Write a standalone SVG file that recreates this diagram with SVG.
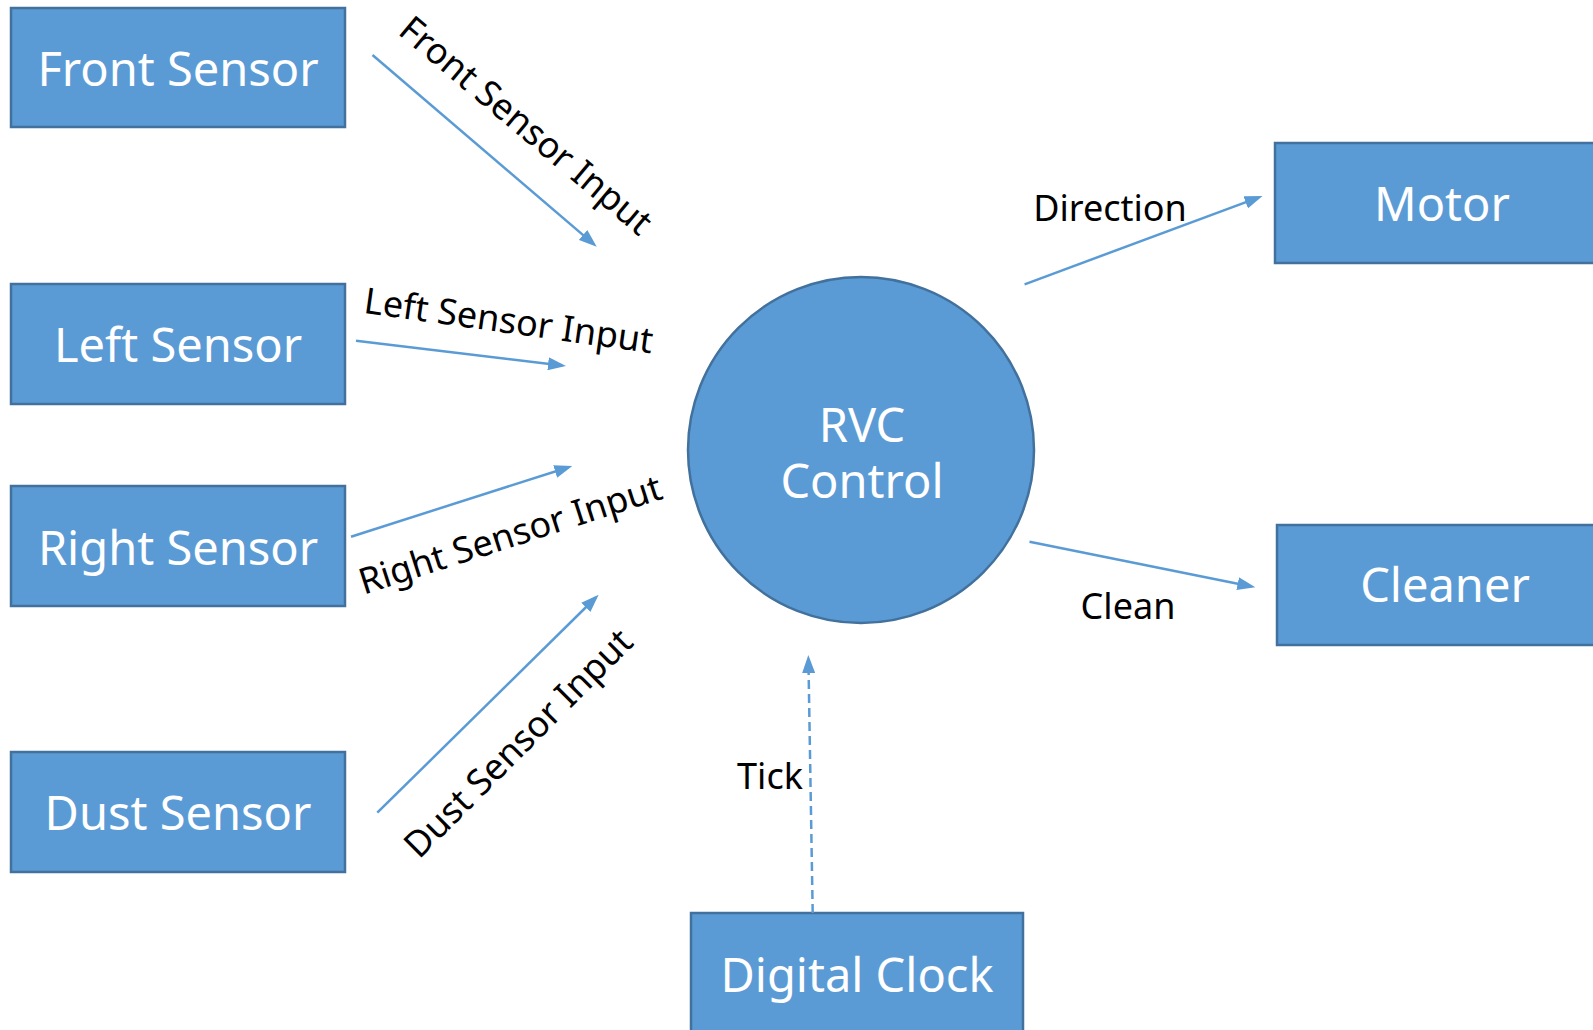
<svg xmlns="http://www.w3.org/2000/svg" width="1593" height="1030" viewBox="0 0 1593 1030">
<style>
.node{fill:#5B9BD5;stroke:#41719C;stroke-width:2.5}
.nt{font-family:"Noto Sans","Open Sans",sans-serif;font-size:47px;fill:#FFFFFF;text-anchor:middle}
.lb{font-family:"Noto Sans","Open Sans",sans-serif;font-size:36px;fill:#000000;text-anchor:middle}
.cn{stroke:#5B9BD5;stroke-width:2.5;fill:none;marker-end:url(#ah)}
.dash{stroke-dasharray:9 5}
</style>
<defs>
<marker id="ah" markerUnits="userSpaceOnUse" markerWidth="18" markerHeight="13" viewBox="0 0 18 13" refX="14" refY="6.5" orient="auto">
<path d="M0,0 L18,6.5 L0,13 z" fill="#5B9BD5"/>
</marker>
</defs>
<rect width="1593" height="1030" fill="#FFFFFF"/>
<g id="front-sensor"><rect class="node" x="11" y="8" width="334" height="119"/><text class="nt" x="178" y="86">Front Sensor</text></g>
<g id="left-sensor"><rect class="node" x="11" y="284" width="334" height="120"/><text class="nt" x="178" y="362">Left Sensor</text></g>
<g id="right-sensor"><rect class="node" x="11" y="486" width="334" height="120"/><text class="nt" x="178" y="565">Right Sensor</text></g>
<g id="dust-sensor"><rect class="node" x="11" y="752" width="334" height="120"/><text class="nt" x="178" y="830">Dust Sensor</text></g>
<g id="rvc-control"><circle class="node" cx="861" cy="450" r="173"/><text class="nt" x="862" y="442">RVC</text><text class="nt" x="862" y="498">Control</text></g>
<g id="motor"><rect class="node" x="1275" y="143" width="336" height="120"/><text class="nt" x="1442" y="221">Motor</text></g>
<g id="cleaner"><rect class="node" x="1277" y="525" width="336" height="120"/><text class="nt" x="1445" y="602">Cleaner</text></g>
<g id="digital-clock"><rect class="node" x="691" y="913" width="332" height="125"/><text class="nt" x="857" y="992">Digital Clock</text></g>
<g id="connectors">
<line class="cn" x1="372.5" y1="55" x2="593.7" y2="244.1"/>
<line class="cn" x1="356" y1="340.7" x2="562" y2="365.5"/>
<line class="cn" x1="351" y1="536.7" x2="568.5" y2="467.2"/>
<line class="cn" x1="377.3" y1="812.7" x2="595.8" y2="597.5"/>
<line class="cn" x1="1024.6" y1="284.3" x2="1258.8" y2="197.4"/>
<line class="cn" x1="1029.5" y1="541.7" x2="1251.4" y2="586.5"/>
<line class="cn dash" x1="812.7" y1="913" x2="808.4" y2="659"/>
<text class="lb" transform="translate(518,135) rotate(40)">Front Sensor Input</text>
<text class="lb" transform="translate(507,333) rotate(8)">Left Sensor Input</text>
<text class="lb" transform="translate(514,546.5) rotate(-17.8)">Right Sensor Input</text>
<text class="lb" transform="translate(527,752) rotate(-45)">Dust Sensor Input</text>
<text class="lb" x="1110" y="221">Direction</text>
<text class="lb" x="1128" y="619">Clean</text>
<text class="lb" x="770" y="789">Tick</text>
</g>
</svg>
